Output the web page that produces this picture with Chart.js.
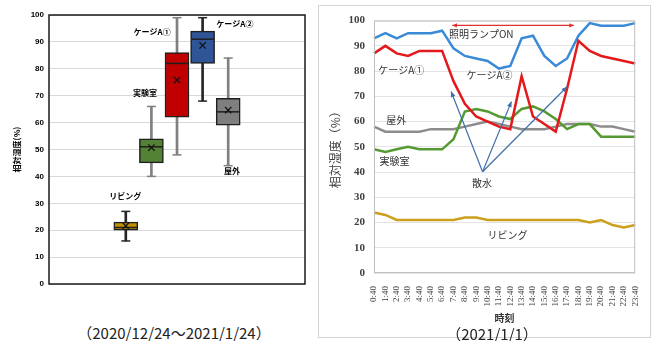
<!DOCTYPE html>
<html>
<head>
<meta charset="utf-8">
<script src="https://cdn.jsdelivr.net/npm/chart.js@4"></script>
<style>
body { margin: 0; background: #fff; width: 655px; height: 341px; position: relative; overflow: hidden; font-family: 'Noto Sans CJK JP', sans-serif; }
#boxChart { position: absolute; left: 0; top: 0; }
#lineChart { position: absolute; left: 318px; top: 5px; }
.cap { position: absolute; font-size: 15px; line-height: 15px; color: #222; white-space: nowrap; transform: translateX(-50%); }
</style>
</head>
<body>
<canvas id="boxChart" width="318" height="300"></canvas>
<canvas id="lineChart" width="333" height="333"></canvas>
<div class="cap" style="left:174px; top:325px">（2020/12/24～2021/1/24）</div>
<div class="cap" style="left:492px; top:326px">（2021/1/1）</div>
<script>
// 左: 期間中の箱ひげ図
const boxNames = ['リビング', '実験室', 'ケージA①', 'ケージA②', '屋外'];
const boxMin = [16, 40, 48, 68, 44];
const boxQ1 = [20, 45, 62, 82, 59];
const boxMedian = [21, 51, 82, 91, 64];
const boxQ3 = [23, 54, 86, 94, 69];
const boxMax = [27, 66, 99, 99, 84];
const boxMean = [21.6, 50.7, 75.8, 88.7, 64.6];
const boxColors = ['#bf9000', '#548235', '#c00000', '#2f5597', '#7f7f7f'];
const whiskerColors = ['#262626', '#808080', '#808080', '#262626', '#808080'];

// 右: 2021/1/1 の時刻別
const timeLabels = ['0:40', '1:40', '2:40', '3:40', '4:40', '5:40', '6:40', '7:40', '8:40', '9:40', '10:40', '11:40',
  '12:40', '13:40', '14:40', '15:40', '16:40', '17:40', '18:40', '19:40', '20:40', '21:40', '22:40', '23:40'];
const cageA1 = [87, 90, 87, 86, 88, 88, 88, 76, 67, 62, 60, 58, 57, 78, 62, 59, 56, 73, 92, 88, 86, 85, 84, 83];
const cageA2 = [93, 95, 93, 95, 95, 95, 96, 89, 86, 85, 84, 81, 82, 93, 94, 86, 82, 85, 94, 99, 98, 98, 98, 99];
const labRoom = [49, 48, 49, 50, 49, 49, 49, 53, 64, 65, 64, 62, 61, 65, 66, 64, 61, 57, 59, 59, 54, 54, 54, 54];
const outdoor = [58, 56, 56, 56, 56, 57, 57, 57, 58, 59, 60, 59, 58, 57, 57, 57, 58, 59, 59, 59, 58, 58, 57, 56];
const living = [24, 23, 21, 21, 21, 21, 21, 21, 22, 22, 21, 21, 21, 21, 21, 21, 21, 21, 21, 20, 21, 19, 18, 19];

// 箱はカテゴリ軸(11枠)の 3〜7 番目に置く
const SLOTS = 11, FIRST = 3;
const place = arr => { const out = Array(SLOTS).fill(null); arr.forEach((v, i) => out[FIRST + i] = v); return out; };
const pick = arr => ctx => arr[ctx.dataIndex - FIRST];
const slotLabels = place(boxNames).map(v => v || '');

const jp = 'Noto Sans CJK JP';

const boxNotes = {
  id: 'boxNotes',
  afterDatasetsDraw(chart) {
    const { ctx, chartArea: a, scales: { x, y } } = chart;
    ctx.save();
    ctx.strokeStyle = '#1a1a1a';
    ctx.lineWidth = 1.5;
    ctx.strokeRect(a.left, a.top, a.right - a.left, a.bottom - a.top);
    ctx.fillStyle = '#000';
    ctx.font = 'bold 8px "' + jp + '"';
    ctx.textAlign = 'center';
    ctx.textBaseline = 'middle';
    [['リビング', 2.98, 32.7], ['実験室', 3.75, 71], ['ケージA①', 4.03, 93.7], ['ケージA②', 7.26, 96.7], ['屋外', 7.15, 42]]
      .forEach(([t, i, v]) => ctx.fillText(t, x.getPixelForValue(i), y.getPixelForValue(v)));
    ctx.restore();
  }
};

new Chart(document.getElementById('boxChart'), {
  data: {
    labels: slotLabels,
    datasets: [
      { type: 'bar', data: place(boxMin.map((m, i) => [m, boxMax[i]])), backgroundColor: pick(whiskerColors),
        barThickness: 2, grouped: false, order: 5 },
      { type: 'bar', data: place(boxQ1.map((q, i) => [q, boxQ3[i]])), backgroundColor: pick(boxColors),
        borderColor: '#1f1f1f', borderWidth: 1.5, borderSkipped: false, barThickness: 24, grouped: false, order: 4 },
      { type: 'line', data: place(boxMin), showLine: false, pointStyle: 'line', pointRadius: 4.5,
        pointBorderWidth: 1.5, pointBorderColor: pick(whiskerColors), order: 3 },
      { type: 'line', data: place(boxMax), showLine: false, pointStyle: 'line', pointRadius: 4.5,
        pointBorderWidth: 1.5, pointBorderColor: pick(whiskerColors), order: 3 },
      { type: 'line', data: place(boxMedian), showLine: false, pointStyle: 'line', pointRadius: 11.5,
        pointBorderWidth: 1.5, pointBorderColor: '#1f1f1f', order: 2 },
      { type: 'line', data: place(boxMean), showLine: false, pointStyle: 'crossRot', pointRadius: 4.5,
        pointBorderWidth: 1.2, pointBorderColor: '#111', order: 1 }
    ]
  },
  options: {
    responsive: false,
    animation: false,
    events: [],
    layout: { padding: { top: 15, right: 6, bottom: 16, left: 0 } },
    plugins: { legend: { display: false }, tooltip: { enabled: false } },
    scales: {
      x: { type: 'category', display: false, offset: false },
      y: {
        min: 0, max: 100,
        afterFit: s => { s.width = 49; },
        ticks: { stepSize: 10, padding: 5, color: '#000', font: { family: 'Liberation Sans', size: 8, weight: 'bold' } },
        grid: { color: '#d9d9d9', drawTicks: false },
        border: { display: false },
        title: { display: true, text: '相対湿度(%)', color: '#000', padding: { top: 12, bottom: 0 },
          font: { family: jp, size: 8, weight: 'bold' } }
      }
    }
  },
  plugins: [boxNotes]
});

function arrow(ctx, x1, y1, x2, y2, head, both) {
  ctx.beginPath(); ctx.moveTo(x1, y1); ctx.lineTo(x2, y2); ctx.stroke();
  const tip = (px, py, a) => {
    ctx.beginPath();
    ctx.moveTo(px, py);
    ctx.lineTo(px - head * Math.cos(a - 0.42), py - head * Math.sin(a - 0.42));
    ctx.lineTo(px - head * Math.cos(a + 0.42), py - head * Math.sin(a + 0.42));
    ctx.closePath(); ctx.fill();
  };
  const a = Math.atan2(y2 - y1, x2 - x1);
  tip(x2, y2, a);
  if (both) tip(x1, y1, a + Math.PI);
}

const lineNotes = {
  id: 'lineNotes',
  beforeDraw(chart) {
    const { ctx, width, height } = chart;
    ctx.save();
    ctx.strokeStyle = '#d4d4d4';
    ctx.lineWidth = 1;
    ctx.strokeRect(0.5, 0.5, width - 1, height - 1);
    ctx.restore();
  },
  afterDatasetsDraw(chart) {
    const { ctx, chartArea: a, scales: { x, y } } = chart;
    const px = i => x.getPixelForValue(i), py = v => y.getPixelForValue(v);
    ctx.save();
    ctx.strokeStyle = '#bfbfbf';
    ctx.lineWidth = 1;
    ctx.strokeRect(a.left + 0.5, a.top + 0.5, a.right - a.left - 1, a.bottom - a.top - 1);

    // 照明ランプON
    ctx.strokeStyle = '#e03030'; ctx.fillStyle = '#e03030'; ctx.lineWidth = 1.2;
    arrow(ctx, px(6.9), py(98.1), px(17.6), py(98.1), 5, true);
    // 散水
    ctx.strokeStyle = '#3f6fa8'; ctx.fillStyle = '#3f6fa8';
    [[6.79, 71.9], [12.1, 67.9], [17.0, 73.8]].forEach(([i, v]) => arrow(ctx, px(9.56), py(40.1), px(i), py(v), 6, false));

    ctx.fillStyle = '#333';
    ctx.font = '10px "' + jp + '"';
    ctx.textAlign = 'center';
    ctx.textBaseline = 'middle';
    [['照明ランプON', 9.44, 94.6], ['ケージA①', 2.4, 80.5], ['ケージA②', 10.17, 78.4], ['屋外', 1.96, 60.7],
     ['実験室', 1.8, 44.3], ['散水', 9.5, 35.7], ['リビング', 11.75, 14.8]]
      .forEach(([t, i, v]) => ctx.fillText(t, px(i), py(v)));
    ctx.restore();
  }
};

const series = (data, color) => ({ data, borderColor: color, backgroundColor: color, borderWidth: 2.5, pointRadius: 0, tension: 0 });

new Chart(document.getElementById('lineChart'), {
  type: 'line',
  data: {
    labels: timeLabels,
    datasets: [
      series(cageA1, '#e3191c'),
      series(cageA2, '#3a8ad8'),
      series(labRoom, '#559a33'),
      series(outdoor, '#8c8c8c'),
      series(living, '#cc9f1c')
    ]
  },
  options: {
    responsive: false,
    animation: false,
    events: [],
    layout: { padding: { top: 13, right: 11, bottom: 13, left: 0 } },
    plugins: { legend: { display: false }, tooltip: { enabled: false } },
    scales: {
      x: {
        afterFit: s => { s.height = 52; },
        ticks: { autoSkip: false, minRotation: 90, maxRotation: 90, padding: 5, color: '#404040',
          font: { family: 'Liberation Serif', size: 9 } },
        grid: { display: false },
        border: { display: false },
        title: { display: true, text: '時刻', color: '#333', padding: { top: 0, bottom: 1 },
          font: { family: jp, size: 10, weight: 'bold' } }
      },
      y: {
        min: 0, max: 100,
        afterFit: s => { s.width = 56; },
        ticks: { stepSize: 10, padding: 9, color: '#404040', font: { family: 'Liberation Serif', size: 11, weight: 'bold' } },
        grid: { color: '#e4e4e4', drawTicks: false },
        border: { display: false },
        title: { display: true, text: '相対湿度（%）', color: '#404040', padding: { top: 10, bottom: 0 },
          font: { family: jp, size: 12 } }
      }
    }
  },
  plugins: [lineNotes]
});
</script>
</body>
</html>
